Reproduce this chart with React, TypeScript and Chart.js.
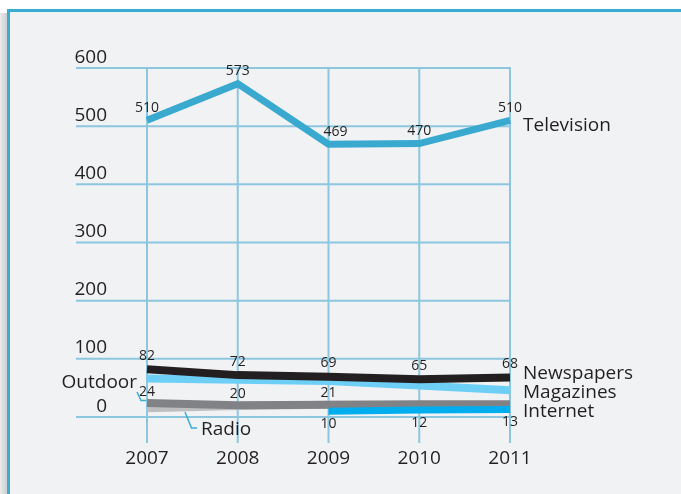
import React, { useEffect, useRef } from "react";
import { Chart, registerables } from "chart.js";

Chart.register(...registerables);

// ---------- data ----------
const years = ["2007", "2008", "2009", "2010", "2011"];
const television = [510, 573, 469, 470, 510];
const newspapers = [82, 72, 69, 65, 68];
const magazines = [66, 64, 62, 54, 46];
const outdoor = [24, 20, 21, 22, 22];
const radio = [15, 19, 21, 20, 20];
const internet: (number | null)[] = [null, null, 10, 12, 13];
const yTicks = [0, 100, 200, 300, 400, 500, 600];
const outdoorLabelled = [0, 1, 2];

// ---------- style ----------
const FONT = '"Open Sans", "DejaVu Sans", sans-serif';
const TEXT = "#231f20";
const GRID = "#8cc7df";
const FRAME = "#39acd3";
const BG = "#f1f2f4";

const framePlugin = {
  id: "frame",
  beforeDraw(chart: any) {
    const ctx = chart.ctx;
    const W = chart.width;
    const H = chart.height;
    ctx.save();
    ctx.fillStyle = "#ffffff";
    ctx.fillRect(0, 0, W, H);
    const g = ctx.createLinearGradient(0, 0, 8, 0);
    g.addColorStop(0, "rgba(235,235,236,1)");
    g.addColorStop(1, "#c9cacc");
    ctx.fillStyle = g;
    ctx.fillRect(0, 13, 8, H - 13);
    ctx.fillStyle = BG;
    ctx.fillRect(9, 11, W - 9, H - 11);
    ctx.fillStyle = FRAME;
    ctx.fillRect(7, 9, W - 7, 3);
    ctx.fillRect(7, 9, 3, H - 9);
    ctx.restore();
  },
  beforeDatasetsDraw(chart: any) {
    const ctx = chart.ctx;
    const xs = chart.scales.x;
    const ys = chart.scales.y;
    const xL = xs.getPixelForValue(0);
    const xR = xs.getPixelForValue(years.length - 1);
    const yTop = ys.getPixelForValue(yTicks[yTicks.length - 1]);
    const y0 = ys.getPixelForValue(0);
    ctx.save();
    ctx.strokeStyle = GRID;
    ctx.lineWidth = 2;
    yTicks.forEach((v) => {
      const py = ys.getPixelForValue(v);
      ctx.beginPath();
      ctx.moveTo(76, py);
      ctx.lineTo(xR + 1, py);
      ctx.stroke();
    });
    years.forEach((_, i) => {
      const px = xs.getPixelForValue(i);
      ctx.beginPath();
      ctx.moveTo(px, yTop - 1);
      ctx.lineTo(px, y0 + 26);
      ctx.stroke();
    });
    ctx.fillStyle = TEXT;
    ctx.font = `19px ${FONT}`;
    ctx.textAlign = "right";
    ctx.textBaseline = "alphabetic";
    yTicks.forEach((v) => {
      const py = ys.getPixelForValue(v);
      ctx.fillText(String(v), 107, py - 5.5);
    });
    ctx.textAlign = "center";
    years.forEach((yr, i) => {
      ctx.fillText(yr, xs.getPixelForValue(i), y0 + 47);
    });
    ctx.restore();
  },
  afterDatasetsDraw(chart: any) {
    const ctx = chart.ctx;
    const xs = chart.scales.x;
    const ys = chart.scales.y;
    const last = years.length - 1;
    const xR = xs.getPixelForValue(last);
    const x0 = xs.getPixelForValue(0);
    const y0 = ys.getPixelForValue(0);
    ctx.save();
    ctx.fillStyle = TEXT;
    ctx.textBaseline = "alphabetic";
    // value labels
    ctx.font = `14px ${FONT}`;
    ctx.textAlign = "center";
    television.forEach((v, i) => {
      ctx.fillText(String(v), xs.getPixelForValue(i) + (i === 2 ? 7 : 0), ys.getPixelForValue(v) - 8.5);
    });
    newspapers.forEach((v, i) => {
      ctx.fillText(String(v), xs.getPixelForValue(i), ys.getPixelForValue(v) - 9.5);
    });
    outdoorLabelled.forEach((i) => {
      const v = outdoor[i];
      ctx.fillText(String(v), xs.getPixelForValue(i), ys.getPixelForValue(v) - 7.5);
    });
    internet.forEach((v, i) => {
      if (v == null) return;
      ctx.fillText(String(v), xs.getPixelForValue(i), ys.getPixelForValue(v) + 16.5);
    });
    // series names
    ctx.font = `19px ${FONT}`;
    ctx.textAlign = "left";
    ctx.fillText("Television", xR + 13, ys.getPixelForValue(television[last]) + 11);
    ctx.fillText("Newspapers", xR + 13, y0 - 38);
    ctx.fillText("Magazines", xR + 13, y0 - 19.5);
    ctx.fillText("Internet", xR + 13, y0 - 0.5);
    ctx.textAlign = "right";
    ctx.fillText("Outdoor", x0 - 10, y0 - 29);
    ctx.textAlign = "left";
    ctx.fillText("Radio", x0 + 54, y0 + 18);
    // leaders
    ctx.strokeStyle = FRAME;
    ctx.lineWidth = 1.5;
    ctx.beginPath();
    ctx.moveTo(x0 - 10, y0 - 25);
    ctx.lineTo(x0 - 6, y0 - 16.5);
    ctx.lineTo(x0 - 1, y0 - 16.5);
    ctx.stroke();
    ctx.beginPath();
    ctx.moveTo(x0 + 38, y0 - 5);
    ctx.lineTo(x0 + 44.5, y0 + 11);
    ctx.lineTo(x0 + 50, y0 + 11);
    ctx.stroke();
    ctx.restore();
  },
};

function ds(label: string, data: (number | null)[], color: string, width: number) {
  return {
    label,
    data,
    borderColor: color,
    backgroundColor: color,
    borderWidth: width,
    pointRadius: 0,
    pointHoverRadius: 0,
    tension: 0,
    fill: false,
    borderCapStyle: "butt" as const,
    borderJoinStyle: "miter" as const,
    spanGaps: false,
  };
}

export default function App() {
  const ref = useRef<HTMLCanvasElement>(null);
  useEffect(() => {
    if (!ref.current) return;
    const chart = new Chart(ref.current, {
      type: "line",
      data: {
        labels: years,
        datasets: [
          ds("Internet", internet, "#00aeef", 7),
          ds("Outdoor", outdoor, "#808285", 8),
          ds("Radio", radio, "#bcbec0", 8),
          ds("Newspapers", newspapers, "#231f20", 8),
          ds("Magazines", magazines, "#6dcff6", 8),
          ds("Television", television, "#39a9cf", 7),
        ],
      },
      options: {
        responsive: false,
        animation: false,
        devicePixelRatio: 1,
        layout: { padding: { left: 147, right: 171, top: 68, bottom: 77 } },
        plugins: { legend: { display: false }, tooltip: { enabled: false } },
        events: [],
        scales: {
          x: { type: "category", display: false, offset: false },
          y: { type: "linear", display: false, min: 0, max: 600 },
        },
      },
      plugins: [framePlugin],
    });
    return () => chart.destroy();
  }, []);
  return (
    <div style={{ position: "fixed", left: 0, top: 0, width: 681, height: 494 }}>
      <canvas ref={ref} width={681} height={494} style={{ display: "block" }} />
    </div>
  );
}
